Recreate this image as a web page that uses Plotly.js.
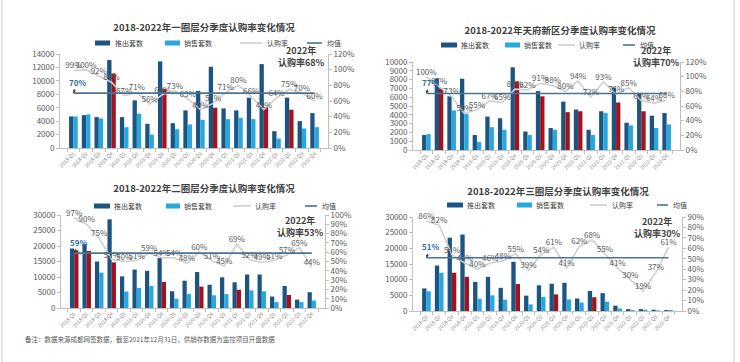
<!DOCTYPE html>
<html><head><meta charset="utf-8">
<script src="https://cdn.plot.ly/plotly-3.0.1.min.js"></script>
<style>
html,body{margin:0;padding:0;background:#fff;width:740px;height:362px;overflow:hidden;}
.p{position:absolute;}
#foot{position:absolute;left:25px;top:334px;font-family:'Noto Sans CJK SC',sans-serif;font-size:6.5px;color:#595959;white-space:nowrap;}
.edge{position:absolute;top:0;width:2px;height:362px;background:#e4e4e4;}
</style></head>
<body>
<div class="edge" style="left:1px"></div>
<div class="edge" style="left:733px"></div>
<div id="p1" class="p" style="left:0;top:0;width:370px;height:180px"></div>
<div id="p2" class="p" style="left:370px;top:0;width:360px;height:180px"></div>
<div id="p3" class="p" style="left:0;top:180px;width:370px;height:160px"></div>
<div id="p4" class="p" style="left:370px;top:180px;width:360px;height:160px"></div>
<div id="foot">备注：数据来源成都网签数据，截至2021年12月31日，供销存数据为监控项目开盘数据</div>
<script>
// ---------- DATA ----------
const quarters = ['2018-Q1','2018-Q2','2018-Q3','2018-Q4','2019-Q1','2019-Q2','2019-Q3','2019-Q4',
  '2020-Q1','2020-Q2','2020-Q3','2020-Q4','2021-Q1','2021-Q2','2021-Q3','2021-Q4',
  '2022-Q1','2022-Q2','2022-Q3','2022-Q4'];
const seriesNames = ['推出套数','销售套数','认购率','均值'];

// 一圈层
const p1Title = '2018-2022年一圈层分季度认购率变化情况';
const p1Supply = [4700,4900,4600,13100,4600,7100,3600,12900,3700,5600,8500,12100,5900,5600,7500,12500,2500,7500,4000,5200];
const p1Sales  = [4700,5000,4400,11100,3100,5100,2000,8800,2800,3500,4200,6000,4300,4500,4300,6100,1400,5700,2900,3100];
const p1Rate   = [99,100,92,84,67,71,56,68,73,63,49,57,71,80,66,49,64,75,70,60];
const p1Mean   = 70;
const p1Rate2022 = 68;
const p1Highlight = ['2018-Q4','2019-Q4','2020-Q4','2021-Q4','2022-Q2'];

// 天府新区
const p2Title = '2018-2022年天府新区分季度认购率变化情况';
const p2Supply = [1700,8100,6100,8100,1700,3800,3600,9400,2100,6700,2500,5500,4600,2300,4400,7100,3100,6500,3900,4200];
const p2Sales  = [1800,7000,4500,4100,900,2600,2300,7800,1700,6100,2300,4300,4400,1700,4200,5400,2800,4400,2500,2900];
const p2Rate   = [100,87,73,50,55,67,65,83,82,91,88,80,94,72,93,76,85,67,64,68];
const p2Mean   = 77;
const p2Rate2022 = 70;
const p2Highlight = ['2018-Q2','2019-Q4','2020-Q2','2020-Q4','2021-Q1','2021-Q4','2022-Q2'];

// 二圈层
const p3Title = '2018-2022年二圈层分季度认购率变化情况';
const p3Supply = [19200,20600,15000,28600,10200,12400,12000,16100,5400,8800,11600,7500,9900,8300,10800,10800,3700,7100,2700,5100];
const p3Sales  = [18600,18400,11400,14700,5300,6500,7100,8400,3000,4500,6900,4100,4500,5900,5700,5400,1900,4200,1900,2400];
const p3Rate   = [97,90,75,52,50,51,59,54,54,48,60,51,45,69,52,49,51,57,65,44];
const p3Mean   = 59;
const p3Rate2022 = 53;
const p3Highlight = ['2018-Q1','2018-Q2','2018-Q4','2019-Q4','2020-Q3','2021-Q2','2022-Q2'];

// 三圈层
const p4Title = '2018-2022年三圈层分季度认购率变化情况';
const p4Supply = [7200,14500,23400,24400,9300,10900,7400,15700,4900,8200,8700,9000,4000,6400,5700,1700,600,600,400,300];
const p4Sales  = [6300,12200,12200,10900,3900,5000,3600,8600,2100,4500,5300,3700,2700,4400,3000,800,300,400,200,300];
const p4Rate   = [86,82,54,46,40,46,48,55,39,54,61,41,62,68,55,41,30,19,37,61];
const p4Mean   = 51;
const p4Rate2022 = 30;
const p4Highlight = ['2018-Q3','2018-Q4','2019-Q4','2020-Q3','2021-Q2'];

// ---------- STYLE ----------
const FONT = "'Noto Sans CJK SC', 'Noto Sans', sans-serif";
const C_DARK = '#1d5582', C_LIGHT = '#29a7df', C_RED = '#a3121d', C_RATE = '#cfcfcf', C_MEAN = '#4b7393';

function build(id, cfg) {
  const W = cfg.w, H = cfg.h, m = cfg.margin;
  const pw = W - m.l - m.r, ph = H - m.t - m.b;
  const px = x => (x - m.l) / pw;            // local px -> paper x
  const py = y => (H - m.b - y) / ph;        // local px -> paper y
  const salesColors = quarters.map(q => cfg.highlight.includes(q) ? C_RED : C_LIGHT);
  const traces = [
    {type:'bar', name:seriesNames[0], x:quarters, y:cfg.supply, marker:{color:C_DARK}, yaxis:'y'},
    {type:'bar', name:seriesNames[1], x:quarters, y:cfg.sales, marker:{color:salesColors}, yaxis:'y'},
    {type:'scatter', mode:'lines+text', name:seriesNames[2], x:quarters, y:cfg.rate, yaxis:'y2',
     line:{color:C_RATE, width:1.6}, text:cfg.rate.map(v=>v+'%'), textposition:'top center',
     textfont:{size:8, color:'#595959', family:FONT}, cliponaxis:false},
    {type:'scatter', mode:'lines', name:seriesNames[3], x:quarters, y:quarters.map(()=>cfg.mean), yaxis:'y2',
     line:{color:C_MEAN, width:1.6}}
  ];
  // manual legend
  const L = cfg.leg; // {y, items:[[x0,x1,textX],...]}
  const shapes = [], anns = [];
  const symColors = [C_DARK, C_LIGHT, C_RATE, C_MEAN];
  L.items.forEach((it, i) => {
    if (i < 2) {
      shapes.push({type:'rect', xref:'paper', yref:'paper', x0:px(it[0]), x1:px(it[1]),
        y0:py(L.y+2.5), y1:py(L.y-2.5), fillcolor:symColors[i], line:{width:0}});
    } else {
      shapes.push({type:'line', xref:'paper', yref:'paper', x0:px(it[0]), x1:px(it[1]),
        y0:py(L.y), y1:py(L.y), line:{color:symColors[i], width:1.6}});
    }
    anns.push({xref:'paper', yref:'paper', x:px(it[2]), y:py(L.y), xanchor:'left', yanchor:'middle',
      showarrow:false, text:seriesNames[i], font:{size:7, color:'#404040', family:FONT}});
  });
  anns.push({xref:'paper', yref:'paper', x:px(cfg.note[0]), y:py(cfg.note[1]), xanchor:'center', yanchor:'middle',
     showarrow:false, align:'center',
     text:'<b>2022年<br>认购率'+cfg.rate2022+'%</b>', font:{size:9, color:'#404040', family:FONT}});
  anns.push({xref:'x', yref:'y2', x:quarters[0], y:cfg.mean, text:'<b>'+cfg.mean+'%</b>', showarrow:true,
     arrowhead:2, arrowsize:0.6, arrowwidth:1, arrowcolor:'#404040', ax:4, ay:-11,
     font:{size:8, color:'#2e6f9e', family:FONT}});
  const layout = {
    width:W, height:H, margin:m, paper_bgcolor:'rgba(0,0,0,0)', plot_bgcolor:'rgba(0,0,0,0)',
    font:{family:FONT, color:'#595959', size:8},
    showlegend:false, barmode:'group', bargap:0.32, bargroupgap:0.0,
    title:{text:'<b>'+cfg.title+'</b>', font:{size:9.5, color:'#404040', family:FONT},
      x:(cfg.titleC[0]) / W, xanchor:'center', xref:'container', y:1 - cfg.titleC[1] / H, yref:'container', yanchor:'middle'},
    xaxis:{type:'category', tickangle:-45, tickfont:{size:5, color:'#7f7f7f'}, showline:true,
      linecolor:'#bfbfbf', ticks:'outside', ticklen:3, tickcolor:'#bfbfbf', tickson:'boundaries',
      showgrid:false, zeroline:false},
    yaxis:{range:cfg.yRange, dtick:cfg.yDtick, tickformat:'d', showgrid:false, zeroline:false,
      showline:true, linecolor:'#bfbfbf', ticks:'outside', ticklen:3, tickcolor:'#bfbfbf',
      tickfont:{size:8, color:'#595959'}},
    yaxis2:{overlaying:'y', side:'right', range:cfg.y2Range, dtick:cfg.y2Dtick, ticksuffix:'%',
      showgrid:false, zeroline:false, showline:true, linecolor:'#bfbfbf', ticks:'outside', ticklen:3,
      tickcolor:'#bfbfbf', tickfont:{size:8, color:'#595959'}},
    shapes:shapes, annotations:anns
  };
  Plotly.newPlot(id, traces, layout, {staticPlot:true, displayModeBar:false});
}

build('p1', {w:370, h:180, title:p1Title, supply:p1Supply, sales:p1Sales, rate:p1Rate, mean:p1Mean,
  rate2022:p1Rate2022, highlight:p1Highlight, margin:{l:60,r:42,t:54,b:32},
  yRange:[0,14000], yDtick:2000, y2Range:[0,120], y2Dtick:20, titleC:[204,28],
  leg:{y:43, items:[[95,110,113],[165,180,182],[240,262,265],[307,322,325]]}, note:[301,56]});
build('p2', {w:360, h:180, title:p2Title, supply:p2Supply, sales:p2Sales, rate:p2Rate, mean:p2Mean,
  rate2022:p2Rate2022, highlight:p2Highlight, margin:{l:43,r:50,t:62,b:30},
  yRange:[0,10000], yDtick:1000, y2Range:[0,120], y2Dtick:20, titleC:[190,31],
  leg:{y:45, items:[[71,87,89],[135,150,152],[188,205,207],[253,265,268]]}, note:[286,57]});
build('p3', {w:370, h:160, title:p3Title, supply:p3Supply, sales:p3Sales, rate:p3Rate, mean:p3Mean,
  rate2022:p3Rate2022, highlight:p3Highlight, margin:{l:61,r:45,t:35,b:32},
  yRange:[0,30000], yDtick:5000, y2Range:[0,100], y2Dtick:10, titleC:[204,9],
  leg:{y:26, items:[[94,110,112],[166,180,182],[233,251,253],[305,317,320]]}, note:[300,46]});
build('p4', {w:360, h:160, title:p4Title, supply:p4Supply, sales:p4Sales, rate:p4Rate, mean:p4Mean,
  rate2022:p4Rate2022, highlight:p4Highlight, margin:{l:43,r:48,t:37,b:29},
  yRange:[0,30000], yDtick:5000, y2Range:[0,90], y2Dtick:10, titleC:[188,12],
  leg:{y:25, items:[[77,93,95],[147,162,164],[220,237,240],[287,298,301]]}, note:[287,47]});
</script>
</body></html>
